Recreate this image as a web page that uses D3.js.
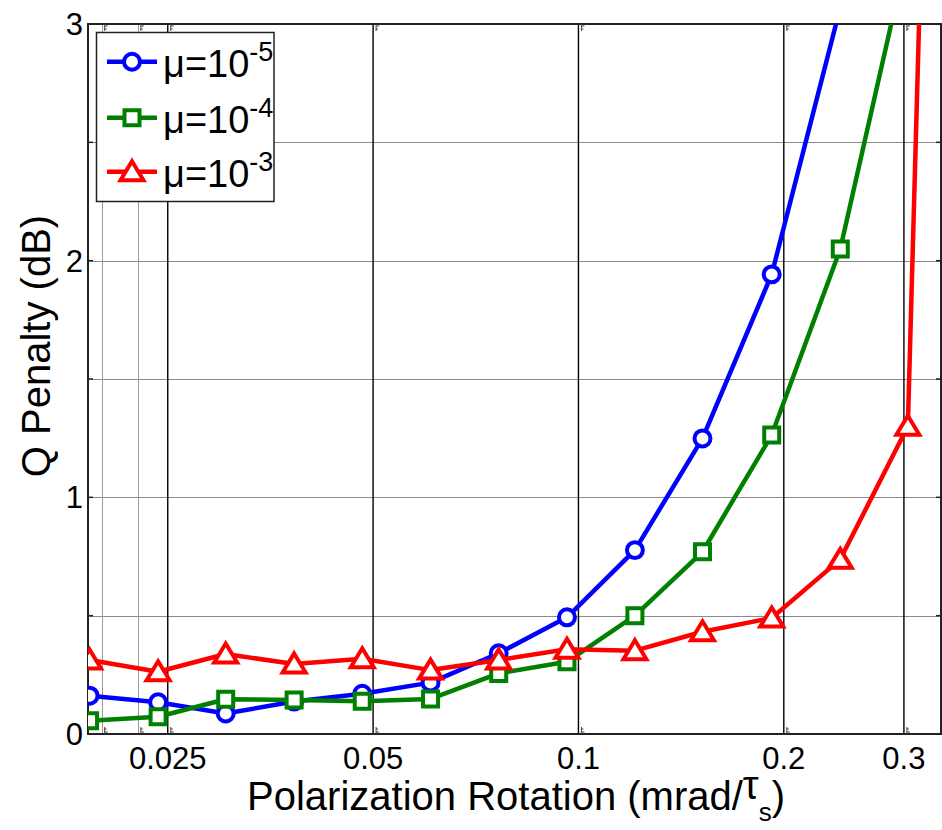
<!DOCTYPE html>
<html>
<head>
<meta charset="utf-8">
<script src="https://cdn.jsdelivr.net/npm/d3@7"></script>
<style>
  html, body { margin: 0; padding: 0; background: #fff; }
  svg { display: block; font-family: "Liberation Sans", Arial, Helvetica, sans-serif; }
</style>
</head>
<body>
<svg id="chart" width="942" height="830"></svg>
<script>
// Polarization rotation (mrad/tau_s), log-spaced sample points
const rotation = [0.0192, 0.0242, 0.0304, 0.0383, 0.0482, 0.0607, 0.0764, 0.0962, 0.121, 0.152, 0.192, 0.242, 0.304, 0.383];

// Q penalty (dB) for each mixing parameter
const penaltyMu5 = [0.162, 0.134, 0.087, 0.137, 0.170, 0.217, 0.341, 0.493, 0.777, 1.249, 1.942, 3.07];
const penaltyMu4 = [0.056, 0.073, 0.147, 0.144, 0.138, 0.148, 0.256, 0.305, 0.500, 0.770, 1.263, 2.049, 3.31];
const penaltyMu3 = [0.313, 0.263, 0.338, 0.296, 0.318, 0.270, 0.313, 0.358, 0.352, 0.432, 0.490, 0.738, 1.300, 11.7];

const seriesExp = ["-5", "-4", "-3"];
const xTickValues = [0.025, 0.05, 0.1, 0.2, 0.3];
const xTickLabels = ["0.025", "0.05", "0.1", "0.2", "0.3"];
const xMinorGrid = [0.02, 0.0226];
const yTickValues = [0, 1, 2, 3];
const yGridValues = [0.5, 1, 1.5, 2, 2.5];
const yMinorTicks = [0.5, 1, 1.5, 2, 2.5];

const svg = d3.select("#chart");
const plot = { left: 88, right: 941, top: 24, bottom: 734 };

const x = d3.scaleLog().domain([0.0191, 0.340]).range([plot.left, plot.right]);
const y = d3.scaleLinear().domain([0, 3]).range([plot.bottom, plot.top]);

svg.append("defs").append("clipPath").attr("id", "plotClip")
  .append("rect")
  .attr("x", plot.left).attr("y", plot.top)
  .attr("width", plot.right - plot.left).attr("height", plot.bottom - plot.top);

// Grid: grey horizontal lines, grey minor and black major vertical lines
const grid = svg.append("g");
grid.selectAll(".hgrid").data(yGridValues).join("line")
  .attr("x1", plot.left).attr("x2", plot.right)
  .attr("y1", d => Math.round(y(d)) + 0.5).attr("y2", d => Math.round(y(d)) + 0.5)
  .attr("stroke", "#8a8a8a").attr("stroke-width", 1);
grid.selectAll(".vminor").data(xMinorGrid).join("line")
  .attr("x1", d => Math.round(x(d)) + 0.5).attr("x2", d => Math.round(x(d)) + 0.5)
  .attr("y1", plot.top).attr("y2", plot.bottom)
  .attr("stroke", "#9a9a9a").attr("stroke-width", 1);
grid.selectAll(".vmajor").data(xTickValues).join("line")
  .attr("x1", d => x(d)).attr("x2", d => x(d))
  .attr("y1", plot.top).attr("y2", plot.bottom)
  .attr("stroke", "#000").attr("stroke-width", 1.4);

// Axis frame and tick marks
const axes = svg.append("g");
axes.append("rect")
  .attr("x", plot.left).attr("y", plot.top)
  .attr("width", plot.right - plot.left).attr("height", plot.bottom - plot.top)
  .attr("fill", "none").attr("stroke", "#222").attr("stroke-width", 2);

axes.selectAll(".ytickL").data(yMinorTicks).join("line")
  .attr("x1", plot.left).attr("x2", plot.left + 5)
  .attr("y1", d => y(d)).attr("y2", d => y(d))
  .attr("stroke", "#222").attr("stroke-width", 1.5);
axes.selectAll(".ytickR").data(yMinorTicks).join("line")
  .attr("x1", plot.right).attr("x2", plot.right - 5)
  .attr("y1", d => y(d)).attr("y2", d => y(d))
  .attr("stroke", "#222").attr("stroke-width", 1.5);

[plot.top, plot.bottom].forEach((edge, i) => {
  const dir = i === 0 ? 1 : -1;
  axes.selectAll(null).data(xTickValues.concat(xMinorGrid)).join("path")
    .attr("d", d => {
      const px = x(d) + 3;
      return `M${px},${edge}v${dir * 7}M${px},${edge + dir * 2}h3M${px},${edge + dir * 5}h2`;
    })
    .attr("fill", "none").attr("stroke", "#444").attr("stroke-width", 1);
});

// Tick labels
const tickFont = 31;
svg.append("g").selectAll("text").data(xTickValues).join("text")
  .attr("x", d => x(d)).attr("y", 769)
  .attr("text-anchor", "middle").attr("font-size", tickFont).attr("fill", "#000")
  .text((d, i) => xTickLabels[i]);
svg.append("g").selectAll("text").data(yTickValues).join("text")
  .attr("x", 83).attr("y", d => y(d) + 11)
  .attr("text-anchor", "end").attr("font-size", tickFont).attr("fill", "#000")
  .text(d => d);

// Axis titles
const xTitle = svg.append("text")
  .attr("x", 516).attr("y", 810)
  .attr("text-anchor", "middle").attr("font-size", 40).attr("fill", "#000");
xTitle.append("tspan").text("Polarization Rotation (mrad/");
xTitle.append("tspan").attr("dy", -11).text("τ");
xTitle.append("tspan").attr("dy", 22).attr("font-size", 26).text("s");
xTitle.append("tspan").attr("dy", -11).text(")");

svg.append("text")
  .attr("transform", "translate(50,346) rotate(-90)")
  .attr("text-anchor", "middle").attr("font-size", 40).attr("fill", "#000")
  .text("Q Penalty (dB)");

// Series
const series = [
  { values: penaltyMu5, color: "#0000ff", marker: "circle" },
  { values: penaltyMu4, color: "#008000", marker: "square" },
  { values: penaltyMu3, color: "#ff0000", marker: "triangle" }
];

const markerPath = {
  circle: d3.symbol().type(d3.symbolCircle).size(200)(),
  square: "M-7.5,-7.5H7.5V7.5H-7.5Z",
  triangle: "M0,-10.5L11.5,8.5H-11.5Z"
};

const line = d3.line().x(d => x(d[0])).y(d => y(d[1]));
const dataLayer = svg.append("g").attr("clip-path", "url(#plotClip)");

series.forEach(s => {
  const pts = s.values.map((v, i) => [rotation[i], v]);
  dataLayer.append("path").datum(pts)
    .attr("d", line)
    .attr("fill", "none").attr("stroke", s.color)
    .attr("stroke-width", 4.5).attr("stroke-linejoin", "round");
  dataLayer.selectAll(null).data(pts.filter(p => p[1] <= 3 && x(p[0]) <= plot.right)).join("path")
    .attr("transform", p => `translate(${x(p[0])},${y(p[1])})`)
    .attr("d", markerPath[s.marker])
    .attr("fill", "#fff").attr("stroke", s.color).attr("stroke-width", 4);
});

// Legend
const legend = svg.append("g");
legend.append("rect")
  .attr("x", 96.5).attr("y", 32.5).attr("width", 177.5).attr("height", 169)
  .attr("fill", "#fff").attr("stroke", "#222").attr("stroke-width", 1.5);
const rowY = [61.7, 117.7, 171.7];
series.forEach((s, i) => {
  const g = legend.append("g").attr("transform", `translate(0,${rowY[i]})`);
  g.append("line").attr("x1", 107).attr("x2", 157).attr("y1", 0).attr("y2", 0)
    .attr("stroke", s.color).attr("stroke-width", 4.5);
  g.append("path").attr("transform", "translate(132,0)")
    .attr("d", markerPath[s.marker])
    .attr("fill", "#fff").attr("stroke", s.color).attr("stroke-width", 4);
  const t = g.append("text").attr("x", 163).attr("y", 15)
    .attr("font-size", 38).attr("fill", "#000");
  t.append("tspan").text("μ=10");
  t.append("tspan").attr("dy", -16).attr("font-size", 27).text(seriesExp[i]);
});
</script>
</body>
</html>
